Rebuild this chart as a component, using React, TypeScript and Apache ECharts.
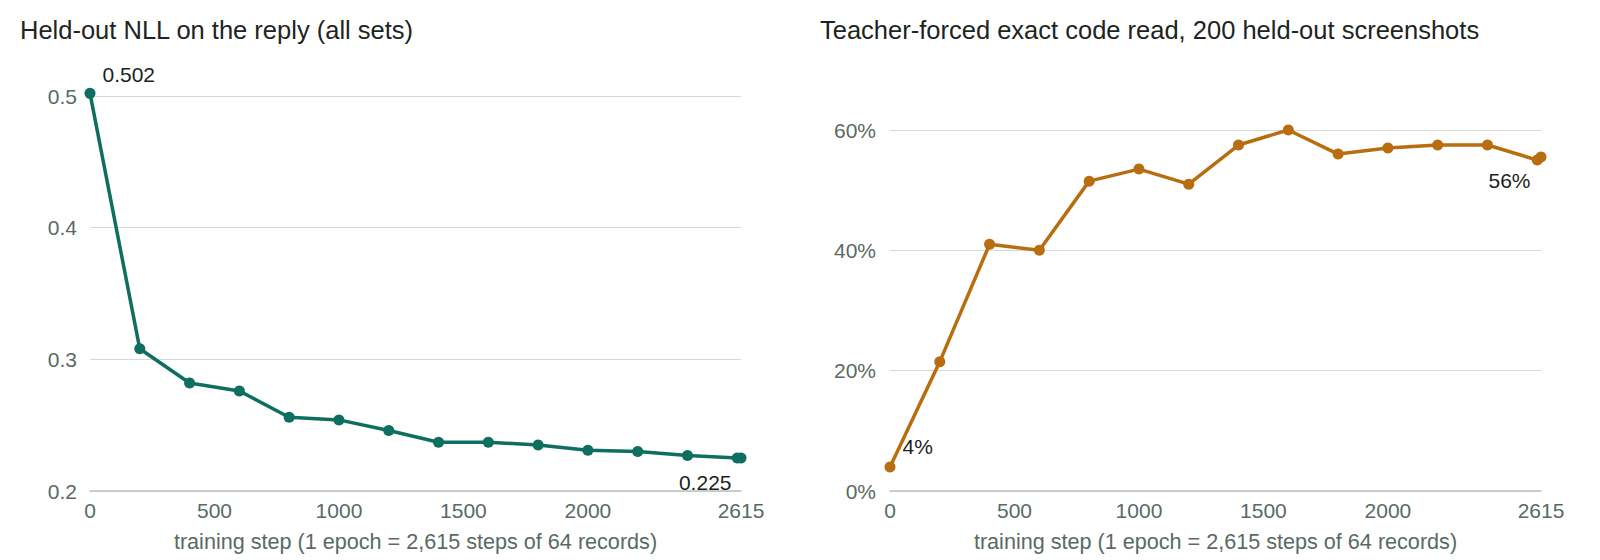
import React, { useEffect, useRef } from "react";
import * as echarts from "echarts";

type EChartsOption = echarts.EChartsOption;

// training steps at which both evals were run
const steps = [0, 200, 400, 600, 800, 1000, 1200, 1400, 1600, 1800, 2000, 2200, 2400, 2600, 2615];
// held-out NLL on the reply
const nll = [0.502, 0.308, 0.282, 0.276, 0.256, 0.254, 0.246, 0.237, 0.237, 0.235, 0.231, 0.23, 0.227, 0.225, 0.225];
// teacher-forced exact code read, percent of 200 screenshots
const exactRead = [4, 21.5, 41, 40, 51.5, 53.5, 51, 57.5, 60, 56, 57, 57.5, 57.5, 55, 55.5];
const xTicks = [0, 500, 1000, 1500, 2000, 2615];

const FONT = "'Liberation Sans', Arial, Helvetica, sans-serif";
const TEAL = "#0e6e5f";
const ORANGE = "#b86e10";
const AXIS_TEXT = "#596a65";
const GRID_LINE = "#d3dbd9";
const AXIS_NAME = "training step (1 epoch = 2,615 steps of 64 records)";

// label only the first and last points of a run
const withEndLabels = (ys: number[], first: any, last: any) =>
  steps.map((s, i) => {
    if (i === 0) return { value: [s, ys[i]], label: { show: true, ...first } };
    if (i === steps.length - 1) return { value: [s, ys[i]], label: { show: true, ...last } };
    return [s, ys[i]];
  });

const xAxisBase = (gridIndex: number) => ({
  type: "value" as const,
  gridIndex,
  min: 0,
  max: 2615,
  interval: 500,
  name: AXIS_NAME,
  nameLocation: "middle" as const,
  nameGap: 39,
  nameTextStyle: { color: AXIS_TEXT, fontSize: 21.6, fontFamily: FONT },
  axisLine: { show: true, lineStyle: { color: "#bac5c2", width: 1.5 } },
  axisTick: { show: false },
  splitLine: { show: false },
  axisLabel: {
    color: AXIS_TEXT,
    fontSize: 21,
    fontFamily: FONT,
    margin: 9,
    customValues: xTicks,
    formatter: (v: number) => String(v),
  },
});

const App: React.FC = () => {
  const chartRef = useRef<HTMLDivElement>(null);

  useEffect(() => {
    if (!chartRef.current) return;
    const myChart = echarts.init(chartRef.current, undefined, { renderer: "svg" });

    const labelText = { color: "#1b1f1e", fontSize: 21, fontFamily: FONT };
    const titleText = { color: "#1c2522", fontSize: 25.5, fontWeight: "normal" as const, fontFamily: FONT };

    const option: EChartsOption = {
      animation: false,
      backgroundColor: "#ffffff",
      title: [
        {
          text: "Held-out NLL on the reply (all sets)",
          left: 20,
          top: 17,
          padding: 0,
          textStyle: titleText,
        },
        {
          text: "Teacher-forced exact code read, 200 held-out screenshots",
          left: 820,
          top: 17,
          padding: 0,
          textStyle: titleText,
        },
      ],
      grid: [
        { left: 90, width: 651, top: 96, bottom: 69 },
        { left: 890, width: 651, top: 130, bottom: 69 },
      ],
      xAxis: [xAxisBase(0), xAxisBase(1)],
      yAxis: [
        {
          type: "value",
          gridIndex: 0,
          min: 0.2,
          max: 0.5,
          interval: 0.1,
          axisLine: { show: false },
          axisTick: { show: false },
          splitLine: { lineStyle: { color: GRID_LINE, width: 1 } },
          axisLabel: {
            color: AXIS_TEXT,
            fontSize: 21,
            fontFamily: FONT,
            margin: 13,
            formatter: (v: number) => v.toFixed(1),
          },
        },
        {
          type: "value",
          gridIndex: 1,
          min: 0,
          max: 60,
          interval: 20,
          axisLine: { show: false },
          axisTick: { show: false },
          splitLine: { lineStyle: { color: GRID_LINE, width: 1 } },
          axisLabel: {
            color: AXIS_TEXT,
            fontSize: 21,
            fontFamily: FONT,
            margin: 14,
            formatter: (v: number) => `${v}%`,
          },
        },
      ],
      series: [
        {
          type: "line",
          xAxisIndex: 0,
          yAxisIndex: 0,
          clip: false,
          symbol: "circle",
          symbolSize: 11,
          lineStyle: { color: TEAL, width: 3.5 },
          itemStyle: { color: TEAL },
          label: {
            ...labelText,
            formatter: (p: any) => p.value[1].toFixed(3),
          },
          data: withEndLabels(
            nll,
            { position: "right", distance: 7, offset: [0, -19] },
            { position: "left", distance: 4, offset: [0, 24] }
          ),
        },
        {
          type: "line",
          xAxisIndex: 1,
          yAxisIndex: 1,
          clip: false,
          symbol: "circle",
          symbolSize: 11,
          lineStyle: { color: ORANGE, width: 3.5 },
          itemStyle: { color: ORANGE },
          label: {
            ...labelText,
            formatter: (p: any) => `${Math.round(p.value[1])}%`,
          },
          data: withEndLabels(
            exactRead,
            { position: "right", distance: 7, offset: [0, -20] },
            { position: "left", distance: 5, offset: [0, 23] }
          ),
        },
      ],
    };

    myChart.setOption(option);

    return () => {
      myChart.dispose();
    };
  }, []);

  return (
    <div
      ref={chartRef}
      style={{ position: "fixed", left: 0, top: 0, width: "1600px", height: "560px" }}
    />
  );
};

export default App;
